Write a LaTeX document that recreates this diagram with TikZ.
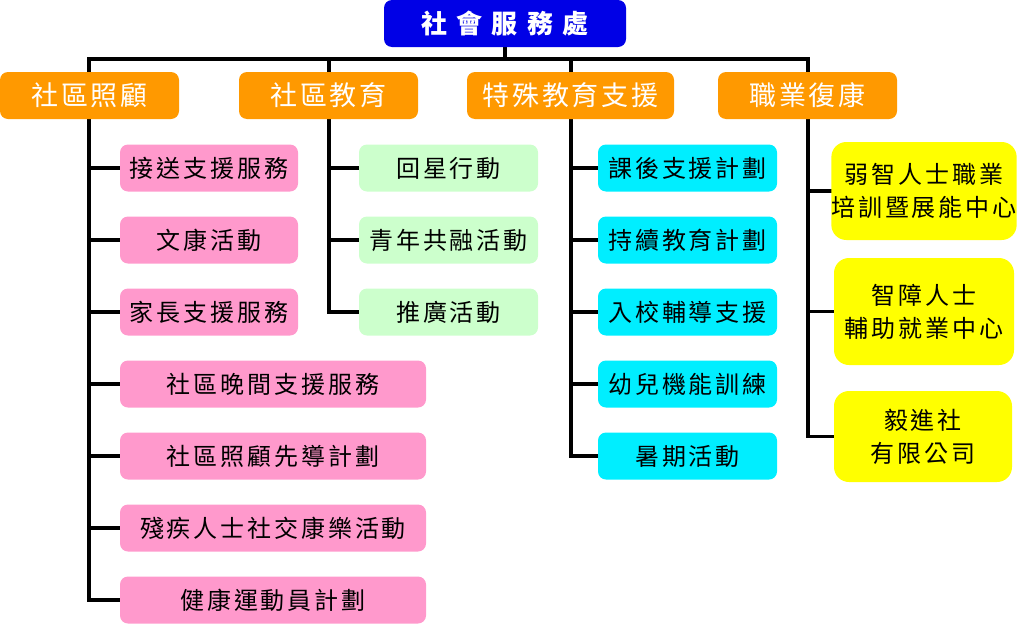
\documentclass[tikz,border=0pt]{standalone}
\usepackage{fontspec}
\newfontfamily\cjk[LetterSpace=12]{Noto Sans CJK TC}
\newfontfamily\cjkhead[LetterSpace=10]{Noto Sans CJK TC}
\usetikzlibrary{backgrounds}
\definecolor{deptblue}{RGB}{0,0,230}
\definecolor{unitorange}{RGB}{255,153,0}
\definecolor{carepink}{RGB}{255,153,204}
\definecolor{edugreen}{RGB}{204,255,204}
\definecolor{specialcyan}{RGB}{0,238,255}
\definecolor{workyellow}{RGB}{255,255,0}

\begin{document}
\begin{tikzpicture}[x=1pt, y=-1pt]
        \tikzstyle{every node}=[rounded corners=8pt, inner sep=0pt, minimum height=47pt, align=center]
        \tikzstyle{head}=[fill=deptblue, text=white, minimum width=242pt, font=\cjk\bfseries\fontsize{26}{30}\selectfont]
        \tikzstyle{unit}=[fill=unitorange, text=white, minimum width=179pt, font=\cjkhead\fontsize{27}{30}\selectfont]
        \tikzstyle{item}=[minimum width=179pt, font=\cjk\fontsize{24}{33}\selectfont]
        \tikzstyle{care}=[item, fill=carepink, minimum width=178pt]
        \tikzstyle{wide}=[care, minimum width=306pt]
        \tikzstyle{edu}=[item, fill=edugreen]
        \tikzstyle{special}=[item, fill=specialcyan]
        \tikzstyle{work}=[item, fill=workyellow, minimum width=180pt, rounded corners=15pt]
        \tikzstyle{link}=[line width=3.5pt, line cap=rect]
        \useasboundingbox (0,0) rectangle (1024,624);

        % top
        \node [head] (dept) at (505,23.5) {社 會 服 務 處};

        % units
        \node [unit] (care) at (89.5,95.5) {社區照顧};
        \node [unit] (edu) at (328.5,95.5) {社區教育};
        \node [unit, minimum width=207pt] (special) at (570.5,95.5) {特殊教育支援};
        \node [unit] (work) at (807.5,95.5) {職業復康};

        % community care
        \node [care] (care1) at (209,168) {接送支援服務};
        \node [care] (care2) at (209,240) {文康活動};
        \node [care] (care3) at (209,312) {家長支援服務};
        \node [wide] (care4) at (273,384) {社區晚間支援服務};
        \node [wide] (care5) at (273,456) {社區照顧先導計劃};
        \node [wide] (care6) at (273,528) {殘疾人士社交康樂活動};
        \node [wide] (care7) at (273,600) {健康運動員計劃};

        % community education
        \node [edu] (edu1) at (448.5,168) {回星行動};
        \node [edu] (edu2) at (448.5,240) {青年共融活動};
        \node [edu] (edu3) at (448.5,312) {推廣活動};

        % special education
        \node [special] (special1) at (687.5,168) {課後支援計劃};
        \node [special] (special2) at (687.5,240) {持續教育計劃};
        \node [special] (special3) at (687.5,312) {入校輔導支援};
        \node [special] (special4) at (687.5,384) {幼兒機能訓練};
        \node [special] (special5) at (687.5,456) {暑期活動};

        % vocational rehabilitation
        \node [work, minimum height=98pt] (work1) at (924,191) {弱智人士職業\\培訓暨展能中心};
        \node [work, minimum height=107pt] (work2) at (924,311.5) {智障人士\\輔助就業中心};
        \node [work, minimum height=91pt, minimum width=178pt] (work3) at (923,436.5) {毅進社\\有限公司};

        \coordinate (bus1) at (89,59);
        \coordinate (bus2) at (329,59);
        \coordinate (bus3) at (571,59);
        \coordinate (bus4) at (808,59);

        \begin{pgfonlayer}{background}
            \draw [link] (dept) -- (dept |- bus1);
            \draw [link] (bus1) -- (bus4);
            \draw [link] (bus1) -- (bus1 |- care7);
            \draw [link] (bus2) -- (bus2 |- edu3);
            \draw [link] (bus3) -- (bus3 |- special5);
            \draw [link] (bus4) -- (bus4 |- work3);
            \foreach \n in {1,...,7}
                \draw [link] (bus1 |- care\n) -- (care\n.west);
            \foreach \n in {1,2,3}
                \draw [link] (bus2 |- edu\n) -- (edu\n.west);
            \foreach \n in {1,...,5}
                \draw [link] (bus3 |- special\n) -- (special\n.west);
            \foreach \n in {1,2,3}
                \draw [link] (bus4 |- work\n) -- (work\n.west);
        \end{pgfonlayer}
    \end{tikzpicture}
\end{document}
